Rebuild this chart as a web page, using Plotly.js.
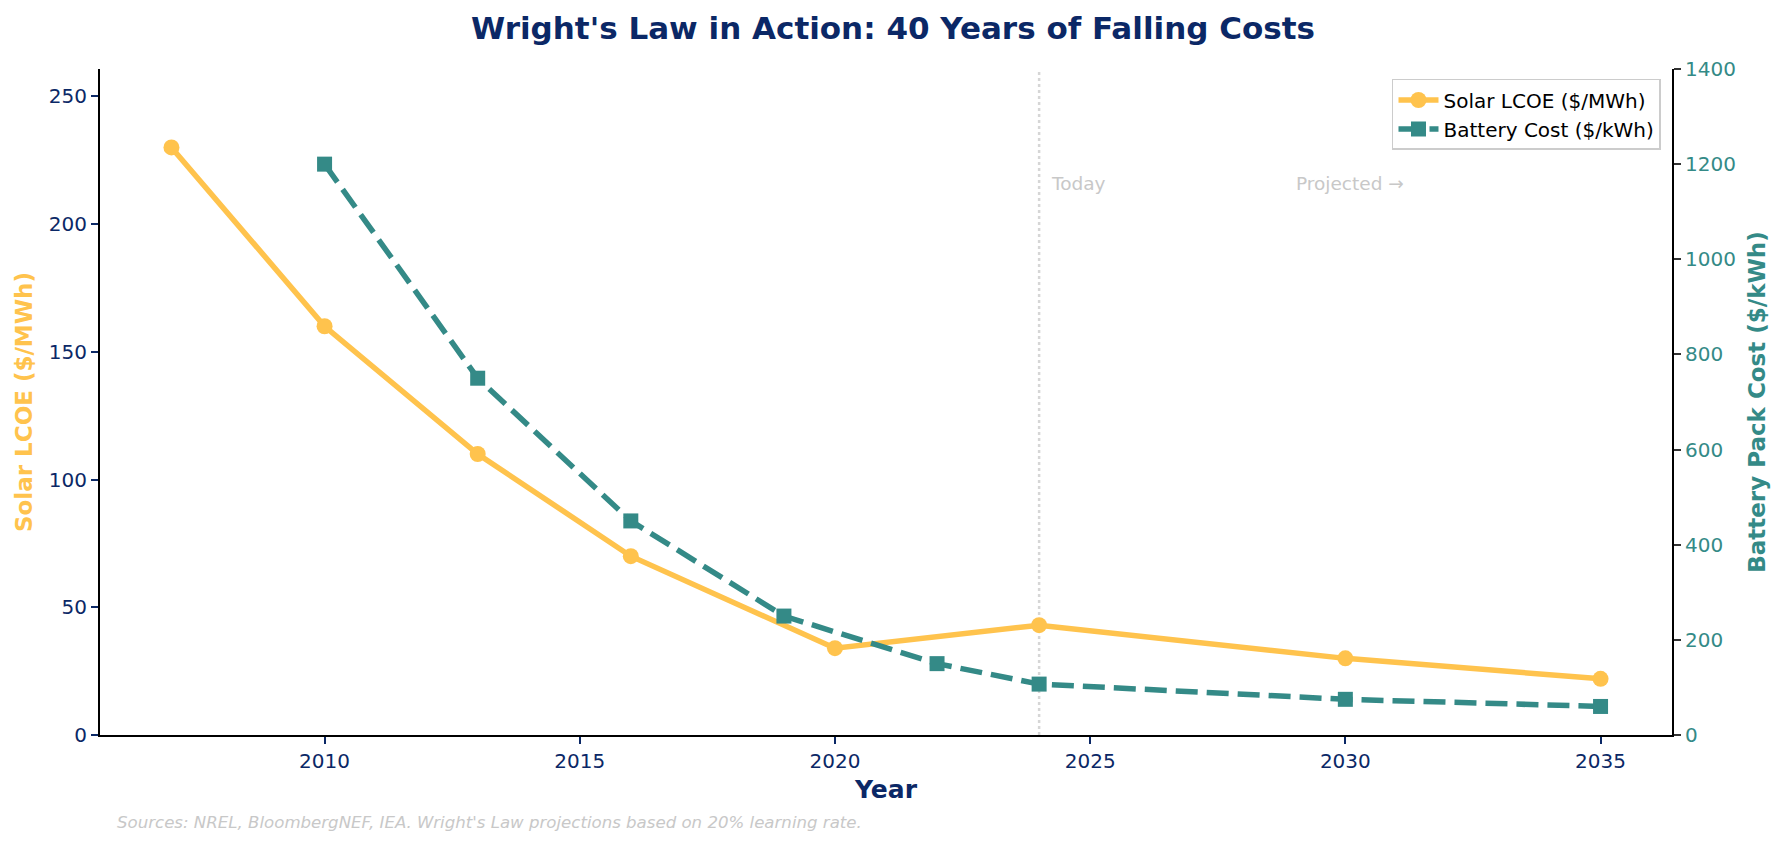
<!DOCTYPE html>
<html>
<head>
<meta charset="utf-8">
<script src="https://cdn.plot.ly/plotly-3.0.1.min.js"></script>
<style>html,body{margin:0;padding:0;background:#fff;}#chart{width:1786px;height:848px;}</style>
</head>
<body>
<div id="chart"></div>
<script>
const solarYears = [2007, 2010, 2013, 2016, 2020, 2024, 2030, 2035];
const solarLCOE = [230, 160, 110, 70, 34, 43, 30, 22];
const batteryYears = [2010, 2013, 2016, 2019, 2022, 2024, 2030, 2035];
const batteryCost = [1200, 750, 450, 250, 150, 107, 75, 60];
const xTicks = [2010, 2015, 2020, 2025, 2030, 2035];
const todayYear = 2024;

const NAVY = '#0b2866';
const GOLD = '#ffc34d';
const TEAL = '#348a87';
const FONT = 'DejaVu Sans';

const traces = [
  {
    x: solarYears, y: solarLCOE, name: 'Solar LCOE ($/MWh)', type: 'scatter', mode: 'lines+markers',
    line: {color: GOLD, width: 5.5}, marker: {color: GOLD, size: 16, symbol: 'circle'}, yaxis: 'y'
  },
  {
    x: batteryYears, y: batteryCost, name: 'Battery Cost ($/kWh)', type: 'scatter', mode: 'lines+markers',
    line: {color: TEAL, width: 5.5, dash: '22px,9px'}, marker: {color: TEAL, size: 15, symbol: 'square'}, yaxis: 'y2'
  }
];

const layout = {
  width: 1786, height: 848,
  margin: {l: 100, r: 114, t: 69, b: 113},
  paper_bgcolor: '#ffffff', plot_bgcolor: '#ffffff',
  font: {family: FONT, size: 20, color: NAVY},
  title: {text: "<b>Wright's Law in Action: 40 Years of Falling Costs</b>", font: {family: FONT, size: 31, color: NAVY}, x: 0.5, xanchor: 'center', y: 0.967, yanchor: 'middle'},
  showlegend: true,
  legend: {x: 0.993, xanchor: 'right', y: 0.985, yanchor: 'top', bgcolor: 'rgba(255,255,255,0.9)', bordercolor: '#cccccc', borderwidth: 1.5, font: {family: FONT, size: 20, color: '#000'}, tracegroupgap: 2, itemwidth: 40},
  xaxis: {
    range: [2005.6, 2036.4], tickvals: xTicks, ticktext: xTicks.map(String), ticks: 'outside', ticklen: 7, tickwidth: 1.5, tickcolor: NAVY,
    showline: true, linecolor: '#000', linewidth: 2, showgrid: false, zeroline: false,
    tickfont: {family: FONT, size: 20, color: NAVY},
    title: {text: '<b>Year</b>', font: {family: FONT, size: 25, color: NAVY}, standoff: 8}
  },
  yaxis: {
    range: [0, 260.7], dtick: 50, tick0: 0, ticks: 'outside', ticklen: 7, tickwidth: 1.5, tickcolor: NAVY,
    showline: true, linecolor: '#000', linewidth: 2, showgrid: false, zeroline: false,
    tickfont: {family: FONT, size: 20, color: NAVY},
    title: {text: '<b>Solar LCOE ($/MWh)</b>', font: {family: FONT, size: 23, color: GOLD}, standoff: 10}
  },
  yaxis2: {
    overlaying: 'y', side: 'right', range: [0, 1400], dtick: 200, tick0: 0, ticks: 'outside', ticklen: 7, tickwidth: 1.5, tickcolor: '#333',
    showline: true, linecolor: '#000', linewidth: 2, showgrid: false, zeroline: false,
    tickfont: {family: FONT, size: 20, color: TEAL},
    title: {text: '<b>Battery Pack Cost ($/kWh)</b>', font: {family: FONT, size: 23, color: TEAL}, standoff: 14}
  },
  shapes: [
    {type: 'line', xref: 'x', yref: 'paper', x0: todayYear, x1: todayYear, y0: 0, y1: 1, line: {color: '#d6d6d6', width: 2.5, dash: 'dot'}, layer: 'below'}
  ],
  annotations: [
    {x: todayYear + 0.2, y: 216, xref: 'x', yref: 'y', text: 'Today', showarrow: false, xanchor: 'left', yanchor: 'middle', font: {family: FONT, size: 18.5, color: '#c8c8c8'}},
    {x: 2029, y: 216, xref: 'x', yref: 'y', text: 'Projected →', showarrow: false, xanchor: 'left', yanchor: 'middle', font: {family: FONT, size: 18.5, color: '#c8c8c8'}},
    {text: "<i>Sources: NREL, BloombergNEF, IEA. Wright's Law projections based on 20% learning rate.</i>", showarrow: false, xanchor: 'left', yanchor: 'middle', font: {family: FONT, size: 16.6, color: '#c8c8c8'}}
  ]
};
// source note positioned in pixels via paper coordinates
layout.annotations[2].xref = 'paper'; layout.annotations[2].yref = 'paper';
layout.annotations[2].x = (115 - 100) / (1786 - 100 - 114);
layout.annotations[2].y = -(823 - 735) / (848 - 69 - 113);

Plotly.newPlot('chart', traces, layout, {displayModeBar: false});
</script>
</body>
</html>
